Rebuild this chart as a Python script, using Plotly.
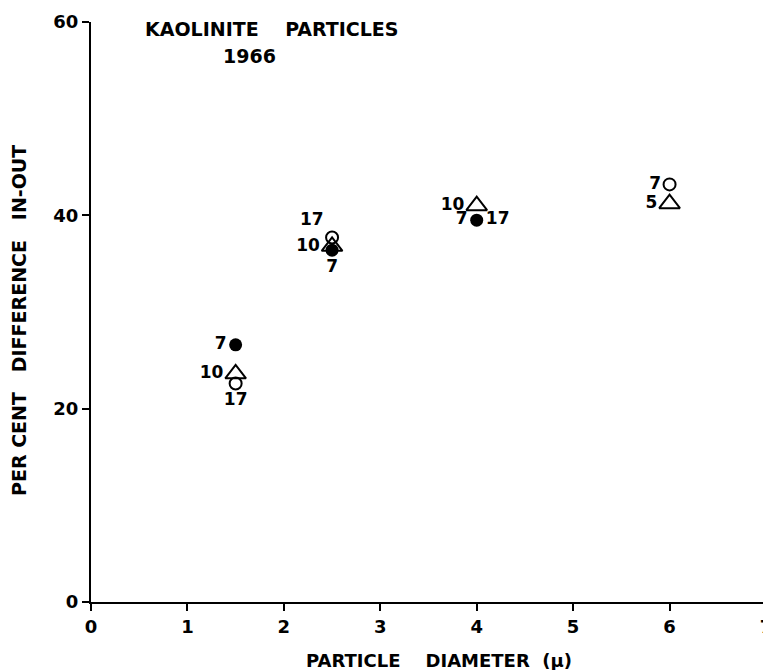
import plotly.graph_objects as go

# Data
filled_x = [1.5, 2.5, 4.0]
filled_y = [26.6, 36.4, 39.5]
filled_lbl = ["7", "7", "7"]
filled_pos = ["middle left", "bottom center", "middle left"]

tri_x = [1.5, 2.5, 4.0, 6.0]
tri_y = [23.6, 36.8, 41.0, 41.2]
tri_lbl = ["10", "10", "10", "5"]
tri_pos = ["middle left", "middle left", "middle left", "middle left"]

open_x = [1.5, 2.5, 6.0]
open_y = [22.6, 37.7, 43.2]
open_lbl = ["17", "17", "7"]
open_pos = ["bottom center", "top left", "middle left"]

extra_x = [4.0]
extra_y = [39.5]
extra_lbl = ["17"]

x_ticks = [0, 1, 2, 3, 4, 5, 6, 7]
y_ticks = [0, 20, 40, 60]

FONT = "DejaVu Sans"
lblfont = dict(family=FONT, size=17, color="black", weight="bold")

fig = go.Figure()
fig.add_trace(go.Scatter(
    x=open_x, y=open_y, mode="markers+text", text=open_lbl, textposition=open_pos,
    textfont=lblfont,
    marker=dict(symbol="circle-open", size=12, color="black", line=dict(width=2, color="black")),
    showlegend=False))
fig.add_trace(go.Scatter(
    x=filled_x, y=filled_y, mode="markers+text", text=filled_lbl, textposition=filled_pos,
    textfont=lblfont,
    marker=dict(symbol="circle", size=13, color="black"),
    showlegend=False))
fig.add_trace(go.Scatter(
    x=tri_x, y=tri_y, mode="markers+text", text=tri_lbl, textposition=tri_pos,
    textfont=lblfont,
    marker=dict(symbol="triangle-up-open", size=18, color="black", line=dict(width=2, color="black")),
    showlegend=False))
fig.add_trace(go.Scatter(
    x=extra_x, y=extra_y, mode="markers+text", text=extra_lbl, textposition="middle right",
    textfont=lblfont, marker=dict(size=13, color="rgba(0,0,0,0)"), showlegend=False,
    hoverinfo="skip"))

# Figure sits inside the page body's 8px margin; plot area at page x 91..766, y 22..602
fig.add_annotation(x=0, y=1, xref="paper", yref="paper", text="KAOLINITE\u00a0\u00a0\u00a0\u00a0PARTICLES",
                   showarrow=False, xanchor="left", yanchor="middle", xshift=52, yshift=-6.5,
                   font=dict(family=FONT, size=19, color="black", weight="bold"))
fig.add_annotation(x=0, y=1, xref="paper", yref="paper", text="1966",
                   showarrow=False, xanchor="center", yanchor="middle", xshift=158.5, yshift=-33.5,
                   font=dict(family=FONT, size=19, color="black", weight="bold"))
fig.add_annotation(x=0, y=0.5, xref="paper", yref="paper",
                   text="PER CENT\u00a0\u00a0\u00a0DIFFERENCE\u00a0\u00a0\u00a0IN-OUT",
                   showarrow=False, textangle=-90, xanchor="center", yanchor="middle",
                   xshift=-72, yshift=-9,
                   font=dict(family=FONT, size=19, color="black", weight="bold"))
fig.add_annotation(x=0.5, y=0, xref="paper", yref="paper",
                   text="PARTICLE\u00a0\u00a0\u00a0\u00a0DIAMETER\u00a0\u00a0(\u03bc)",
                   showarrow=False, xanchor="center", yanchor="middle",
                   xshift=10, yshift=-58,
                   font=dict(family=FONT, size=18, color="black", weight="bold"))

fig.update_layout(
    width=763, height=662,
    margin=dict(l=83, r=5, t=14, b=68, autoexpand=False),
    plot_bgcolor="white", paper_bgcolor="white",
    font=dict(family=FONT, size=18, color="black"),
)
fig.update_xaxes(
    range=[0, 7], tickvals=x_ticks, ticktext=[str(v) for v in x_ticks],
    showgrid=False, zeroline=False, showline=True, linecolor="black", linewidth=2,
    ticks="outside", ticklen=7, tickwidth=2, tickcolor="black",
    tickfont=dict(family=FONT, size=18, weight="bold"), ticklabeloverflow="allow",
    automargin=False,
)
fig.update_yaxes(
    range=[0, 60], tickvals=y_ticks, ticktext=[str(v) for v in y_ticks],
    showgrid=False, zeroline=False, showline=True, linecolor="black", linewidth=2,
    ticks="outside", ticklen=7, tickwidth=2, tickcolor="black",
    tickfont=dict(family=FONT, size=18, weight="bold"), ticklabeloverflow="allow",
    automargin=False,
)

fig.write_html("out.html")
